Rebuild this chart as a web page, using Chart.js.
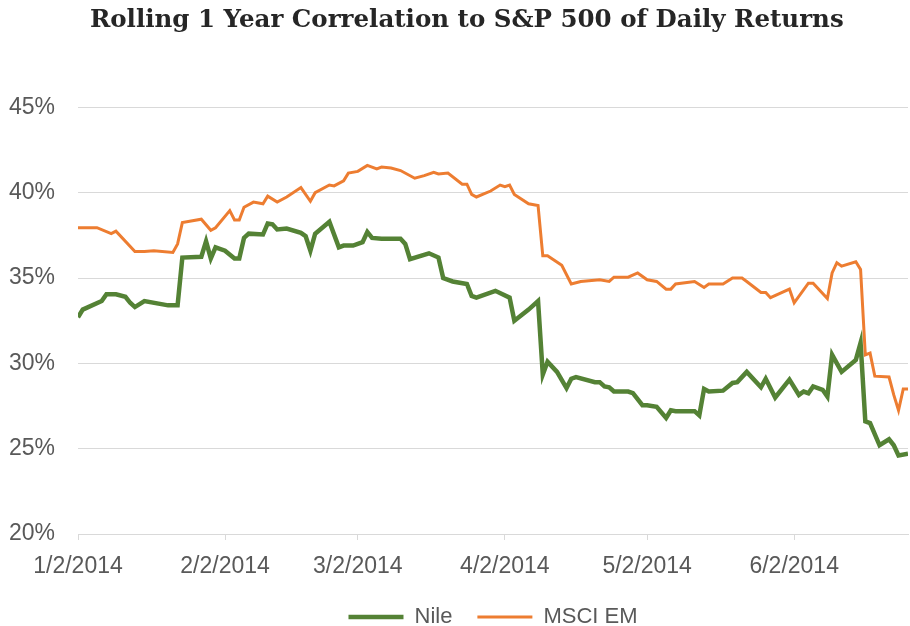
<!DOCTYPE html>
<html>
<head>
<meta charset="utf-8">
<script src="https://cdn.jsdelivr.net/npm/chart.js@4.4.1/dist/chart.umd.min.js"></script>
<style>
  html, body { margin: 0; padding: 0; background: #fff; }
  #wrap { width: 910px; height: 626px; }
</style>
</head>
<body>
<div id="wrap"><canvas id="grafico" width="910" height="626"></canvas></div>
<script>
// === DATI (date in formato M/D, anno 2014) ===
const tickLabels = ['1/2/2014', '2/2/2014', '3/2/2014', '4/2/2014', '5/2/2014', '6/2/2014'];

const nileDates = ['1/2','1/3','1/7','1/8','1/10','1/12','1/13','1/14','1/16','1/21','1/23','1/24','1/28','1/29','1/30','1/31',
  '2/2','2/4','2/5','2/6','2/7','2/10','2/11','2/12','2/13','2/15','2/18','2/19','2/20','2/21','2/24','2/26','2/27',
  '3/1','3/3','3/4','3/5','3/7','3/11','3/12','3/13','3/17','3/19','3/20','3/22','3/25','3/26','3/27','3/31',
  '4/3','4/4','4/7','4/9','4/10','4/11','4/13','4/15','4/16','4/17','4/21','4/22','4/23','4/24','4/25','4/28','4/29',
  '5/1','5/2','5/4','5/6','5/7','5/8','5/12','5/13','5/14','5/15','5/18','5/20','5/21','5/23','5/26','5/27','5/29',
  '6/1','6/3','6/4','6/5','6/6','6/8','6/9','6/10','6/12','6/15','6/16','6/17','6/18','6/20','6/22','6/23','6/24','6/26'];
const nileValues = [32.7,33.15,33.65,34.05,34.05,33.9,33.55,33.3,33.65,33.4,33.4,36.2,36.25,37.15,36.15,36.8,
  36.6,36.15,36.15,37.35,37.6,37.55,38.2,38.15,37.85,37.9,37.65,37.45,36.6,37.6,38.3,36.8,36.9,
  36.9,37.1,37.7,37.35,37.3,37.3,37.0,36.1,36.45,36.2,35.0,34.8,34.65,33.95,33.85,34.25,
  33.85,32.5,33.15,33.65,29.35,30.1,29.5,28.55,29.1,29.2,28.9,28.9,28.65,28.6,28.35,28.35,28.25,
  27.55,27.55,27.45,26.8,27.25,27.2,27.2,26.95,28.5,28.35,28.4,28.85,28.9,29.5,28.6,29.1,28.0,
  29.05,28.15,28.35,28.25,28.65,28.45,28.05,30.5,29.5,30.2,31.2,26.6,26.5,25.2,25.55,25.2,24.6,24.7];

const msciDates = ['1/2','1/6','1/9','1/10','1/14','1/16','1/18','1/22','1/23','1/24','1/28','1/30','1/31',
  '2/3','2/4','2/5','2/6','2/8','2/10','2/11','2/13','2/15','2/18','2/20','2/21','2/24','2/25','2/27','2/28',
  '3/2','3/4','3/6','3/7','3/9','3/11','3/14','3/16','3/18','3/19','3/21','3/24','3/25','3/26','3/27','3/30',
  '4/1','4/2','4/3','4/4','4/7','4/9','4/10','4/11','4/14','4/16','4/18','4/22','4/24','4/25','4/28','4/30',
  '5/2','5/4','5/6','5/7','5/8','5/12','5/14','5/15','5/18','5/20','5/22','5/23','5/26','5/27','5/28','5/30',
  '6/1','6/2','6/5','6/6','6/9','6/10','6/11','6/12','6/15','6/16','6/17','6/18','6/19','6/22','6/23','6/24','6/25','6/26'];
const msciValues = [37.95,37.95,37.6,37.75,36.55,36.55,36.6,36.5,37.0,38.25,38.45,37.8,37.95,
  38.95,38.4,38.4,39.15,39.45,39.35,39.8,39.45,39.75,40.3,39.5,40.0,40.45,40.4,40.7,41.15,
  41.25,41.6,41.4,41.5,41.45,41.3,40.85,41.0,41.2,41.1,41.15,40.5,40.5,39.9,39.75,40.1,
  40.45,40.35,40.45,39.9,39.35,39.25,36.3,36.3,35.75,34.65,34.8,34.9,34.8,35.05,35.05,35.3,
  34.9,34.8,34.35,34.35,34.65,34.8,34.45,34.65,34.65,35.0,35.0,34.8,34.15,34.15,33.85,34.1,
  34.35,33.55,34.7,34.7,33.8,35.3,35.9,35.7,35.95,35.5,30.5,30.6,29.25,29.2,28.15,27.25,28.5,28.5];

// giorni trascorsi dal 2 gennaio 2014
function giorno(s) {
  const p = s.split('/');
  const anno = p[2] ? parseInt(p[2]) : 2014;
  return (Date.UTC(anno, parseInt(p[0]) - 1, parseInt(p[1])) - Date.UTC(2014, 0, 2)) / 86400000;
}

const tickValues = tickLabels.map(giorno);
const punti = (date, valori) => date.map((d, i) => ({ x: giorno(d), y: valori[i] }));

const fontAssi = "'Liberation Sans', sans-serif";

new Chart(document.getElementById('grafico').getContext('2d'), {
  type: 'line',
  data: {
    datasets: [
      {
        label: 'Nile',
        data: punti(nileDates, nileValues),
        borderColor: '#548235',
        backgroundColor: '#548235',
        borderWidth: 4.5,
        pointRadius: 0,
        pointStyle: 'line',
        tension: 0
      },
      {
        label: 'MSCI EM',
        data: punti(msciDates, msciValues),
        borderColor: '#ED7D31',
        backgroundColor: '#ED7D31',
        borderWidth: 3,
        pointRadius: 0,
        pointStyle: 'line',
        tension: 0
      }
    ]
  },
  options: {
    responsive: false,
    animation: false,
    layout: { padding: { left: 0, right: 2, top: 0, bottom: -12 } },
    plugins: {
      title: {
        display: true,
        // spazi iniziali per spostare il titolo un po' a destra, come nell'originale
        text: '\u00A0\u00A0\u00A0Rolling 1 Year Correlation to S&P 500 of Daily Returns',
        color: '#262626',
        font: { family: "'DejaVu Serif', serif", size: 24.5, weight: 'bold' },
        padding: { top: 6, bottom: 72 }
      },
      legend: {
        position: 'bottom',
        fullSize: false,
        labels: {
          usePointStyle: true,
          pointStyleWidth: 55,
          boxWidth: 55,
          padding: 25,
          color: '#595959',
          font: { family: fontAssi, size: 22 }
        }
      },
      tooltip: { enabled: false }
    },
    scales: {
      x: {
        type: 'linear',
        min: 0,
        max: 175,
        afterBuildTicks: scale => { scale.ticks = tickValues.map(v => ({ value: v })); },
        afterFit: scale => { scale.height = 47; },
        ticks: {
          color: '#595959',
          font: { family: fontAssi, size: 23 },
          maxRotation: 0,
          autoSkip: false,
          padding: 13,
          callback: (v) => tickLabels[tickValues.indexOf(v)]
        },
        grid: { drawOnChartArea: false, drawTicks: true, tickLength: 6, color: '#d9d9d9' },
        border: { color: '#d9d9d9' }
      },
      y: {
        min: 20,
        max: 45,
        afterFit: scale => { scale.width = 78; },
        ticks: {
          stepSize: 5,
          color: '#595959',
          font: { family: fontAssi, size: 23 },
          padding: 23,
          callback: v => v + '%'
        },
        grid: { drawTicks: false, color: '#d9d9d9' },
        border: { display: false }
      }
    }
  }
});
</script>
</body>
</html>
